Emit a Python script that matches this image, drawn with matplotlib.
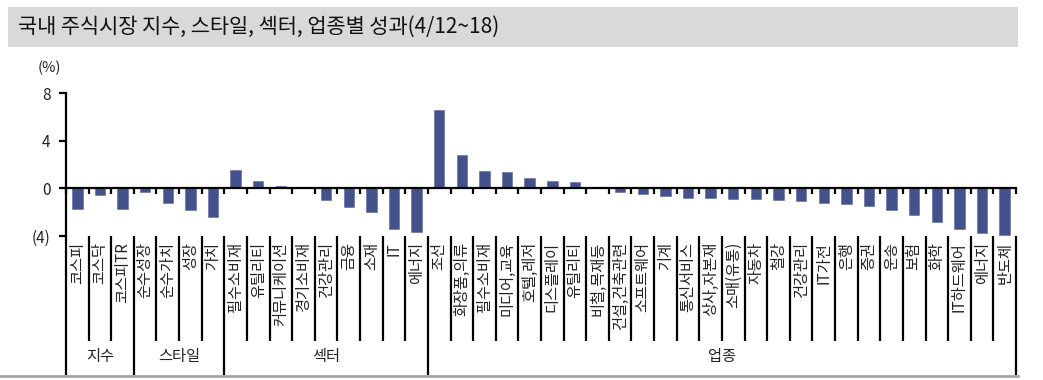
import matplotlib
matplotlib.use("Agg")
import matplotlib.pyplot as plt
from matplotlib.patches import Rectangle
from matplotlib.lines import Line2D

plt.rcParams['font.family'] = ['Noto Sans CJK KR', 'DejaVu Sans']

title = "국내 주식시장 지수, 스타일, 섹터, 업종별 성과(4/12~18)"
unit_label = "(%)"

group_names = ["지수", "스타일", "섹터", "업종"]

index_labels = ["코스피", "코스닥", "코스피TR"]
index_values = [-1.77, -0.59, -1.77]

style_labels = ["순수성장", "순수가치", "성장", "가치"]
style_values = [-0.28, -1.20, -1.83, -2.39]

sector_labels = ["필수소비재", "유틸리티", "커뮤니케이션", "경기소비재", "건강관리",
                 "금융", "소재", "IT", "에너지"]
sector_values = [1.54, 0.59, 0.20, 0.05, -1.00, -1.55, -2.00, -3.43, -3.70]

industry_labels = ["조선", "화장품,의류", "필수소비재", "미디어,교육", "호텔,레저",
                   "디스플레이", "유틸리티", "비철,목재등", "건설,건축관련", "소프트웨어",
                   "기계", "통신서비스", "상사,자본재", "소매(유통)", "자동차", "철강",
                   "건강관리", "IT가전", "은행", "증권", "운송", "보험", "화학",
                   "IT하드웨어", "에너지", "반도체"]
industry_values = [6.54, 2.81, 1.49, 1.40, 0.84, 0.65, 0.51, 0.02, -0.28, -0.48,
                   -0.67, -0.81, -0.81, -0.90, -0.93, -0.98, -1.07, -1.24, -1.35,
                   -1.46, -1.83, -2.25, -2.84, -3.40, -3.74, -3.90]

y_ticks = [-4, 0, 4, 8]
y_ticklabels = ["(4)", "0", "4", "8"]

groups = [index_labels, style_labels, sector_labels, industry_labels]
labels = index_labels + style_labels + sector_labels + industry_labels
values = index_values + style_values + sector_values + industry_values
n = len(labels)
xs = list(range(n))

W, H = 1043, 380
fig = plt.figure(figsize=(W / 100, H / 100), dpi=100)

def fx(px):
    return px / W

def fy(py):
    return 1 - py / H

# title bar
fig.patches.append(Rectangle((fx(8), fy(47)), fx(1018) - fx(8), fy(7) - fy(47),
                             transform=fig.transFigure, facecolor="#d9d9d9",
                             edgecolor="none", zorder=0))
fig.text(fx(18), fy(27), title, fontsize=15, va="center", ha="left", color="#111111")

# main axes
left, right = 66, 1016
top, bot = 93, 236
ax = fig.add_axes([fx(left), fy(bot), fx(right) - fx(left), fy(top) - fy(bot)])
bar_color = "#45518b"
ax.bar(xs, values, width=0.46, color=bar_color, edgecolor="#5a66a0", linewidth=0.4, zorder=2)
ax.set_xlim(-0.5, n - 0.5)
ax.set_ylim(-4, 8)
for s in ["top", "right"]:
    ax.spines[s].set_visible(False)
ax.spines["bottom"].set_position(("data", 0))
ax.spines["bottom"].set_linewidth(1.6)
ax.spines["left"].set_linewidth(1.6)
ax.set_xticks([i - 0.5 for i in range(n + 1)])
ax.set_xticklabels([])
ax.tick_params(axis="x", direction="out", length=4, width=1.6, color="black")
ax.set_yticks(y_ticks)
ax.set_yticklabels(y_ticklabels, fontsize=11, color="#222222")
ax.tick_params(axis="y", direction="out", length=5, width=1.6, pad=6)
ax.patch.set_visible(False)
fig.text(fx(49), fy(68), unit_label, fontsize=10.5, ha="center", va="center", color="#222222")

# label area
lb_top, lb_bot = 236, 375
lax = fig.add_axes([fx(left), fy(lb_bot), fx(right) - fx(left), fy(lb_top) - fy(lb_bot)])
lax.set_xlim(-0.5, n - 0.5)
lax.set_ylim(0, 1)
lax.axis("off")

group_bounds = [-0.5]
c = -0.5
for g in groups:
    c += len(g)
    group_bounds.append(c)

sep_low = (lb_bot - 341) / (lb_bot - lb_top)
for i in range(n + 1):
    b = i - 0.5
    if b in group_bounds:
        lax.plot([b, b], [0, 1], color="black", lw=1.6, clip_on=False, solid_capstyle="butt")
    else:
        lax.plot([b, b], [sep_low, 1], color="black", lw=1.6, clip_on=False, solid_capstyle="butt")

label_top = (lb_bot - 242) / (lb_bot - lb_top)
for x, lab in zip(xs, labels):
    lax.text(x, label_top, lab, rotation=90, ha="center", va="top", fontsize=11,
             color="#222222", rotation_mode="default")

group_y = (lb_bot - 357) / (lb_bot - lb_top)
for gname, a, b in zip(group_names, group_bounds[:-1], group_bounds[1:]):
    lax.text((a + b) / 2, group_y, gname, ha="center", va="center", fontsize=11, color="#222222")

# bottom gray line
fig.lines.append(Line2D([0, fx(1018)], [fy(376), fy(376)], transform=fig.transFigure,
                        color="#a6a6a6", lw=2))

fig.savefig("out.png", dpi=100)
